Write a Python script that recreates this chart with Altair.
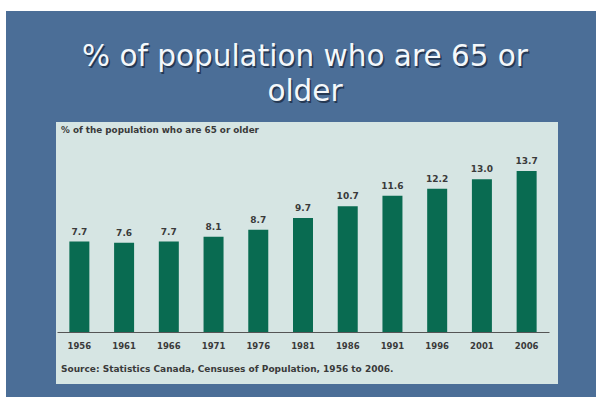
import altair as alt
import pandas as pd

years = ["1956", "1961", "1966", "1971", "1976", "1981", "1986", "1991", "1996", "2001", "2006"]
values = [7.7, 7.6, 7.7, 8.1, 8.7, 9.7, 10.7, 11.6, 12.2, 13.0, 13.7]
slide_title = ["% of population who are 65 or", "older"]
panel_title = "% of the population who are 65 or older"
source_text = "Source: Statistics Canada, Censuses of Population, 1956 to 2006."

df = pd.DataFrame({"year": years, "value": values})
one = pd.DataFrame({"k": [0]})

BLUE = "#4b6e97"
PANEL = "#d6e5e3"
BAR = "#096b51"
TXT = "#3a3a3a"
PW, PH = 502, 262

x = alt.X("year:N", sort=years,
          scale=alt.Scale(range=[1, 493], paddingInner=0, paddingOuter=0),
          axis=alt.Axis(title=None, labelAngle=0, ticks=False, offset=-52, zindex=2,
                        domainColor="#555555", domainWidth=1,
                        labelFont="DejaVu Sans", labelFontWeight="bold",
                        labelFontSize=8.5, labelColor=TXT, labelPadding=9,
                        grid=False))
y = alt.Y("value:Q", scale=alt.Scale(domain=[0, 17.87], range=[210, 0], nice=False),
          axis=None)

blue_bg = alt.Chart(one).mark_rect(color=BLUE).encode(
    x=alt.value(-50), x2=alt.value(540), y=alt.value(-111), y2=alt.value(275))
panel_bg = alt.Chart(one).mark_rect(color=PANEL).encode(
    x=alt.value(0), x2=alt.value(PW), y=alt.value(0), y2=alt.value(PH))

bars = alt.Chart(df).mark_bar(color=BAR, size=20).encode(x=x, y=y)
labels = alt.Chart(df).mark_text(baseline="bottom", dy=-5, font="DejaVu Sans",
                                 fontWeight="bold", fontSize=9, color=TXT).encode(
    x=alt.X("year:N", sort=years), y=alt.Y("value:Q"),
    text=alt.Text("value:Q", format=".1f"))

ptitle = alt.Chart(one).mark_text(align="left", baseline="middle", font="DejaVu Sans",
                                  fontWeight="bold", fontSize=8.8, color=TXT).encode(
    x=alt.value(5), y=alt.value(8), text=alt.value(panel_title))
source = alt.Chart(one).mark_text(align="left", baseline="middle", font="DejaVu Sans",
                                  fontWeight="bold", fontSize=9, color=TXT).encode(
    x=alt.value(5), y=alt.value(247), text=alt.value(source_text))

title_shadow = alt.Chart(one).mark_text(align="center", baseline="alphabetic",
                                        font="DejaVu Sans", fontSize=29.5, lineHeight=35,
                                        color="#1c2c44", opacity=0.8).encode(
    x=alt.value(250.5), y=alt.value(-54.5), text=alt.value(slide_title))
title_main = alt.Chart(one).mark_text(align="center", baseline="alphabetic",
                                      font="DejaVu Sans", fontSize=29.5, lineHeight=35,
                                      color="#f4f8fb").encode(
    x=alt.value(249), y=alt.value(-56), text=alt.value(slide_title))

chart = alt.layer(blue_bg, panel_bg, bars, labels, ptitle, source, title_shadow, title_main).properties(
    width=PW, height=PH,
    padding={"left": 56, "top": 122, "right": 39, "bottom": 13},
    autosize=alt.AutoSizeParams(type="none"),
    background="white",
).configure_view(stroke=None, fill=None)

chart.save("out.html", embed_options={"renderer": "svg", "actions": False})
